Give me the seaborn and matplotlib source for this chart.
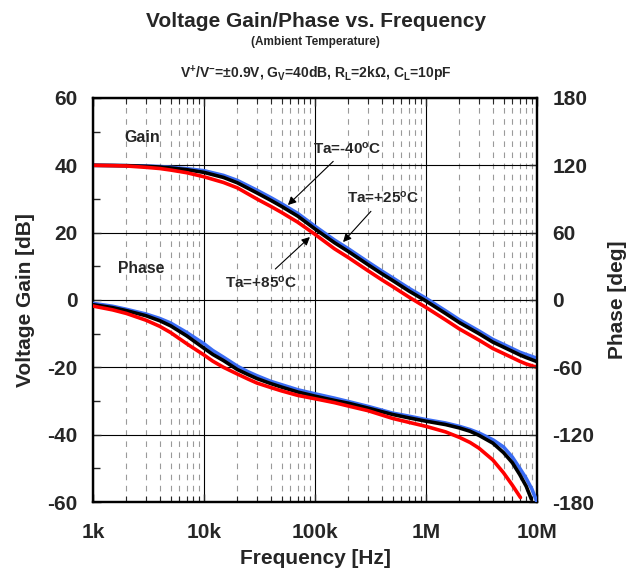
import numpy as np
import matplotlib
matplotlib.use("Agg")
import matplotlib.pyplot as plt
import seaborn as sns
from matplotlib.ticker import LogLocator, NullFormatter, MultipleLocator

# ===============================
# Data
# ===============================
freq_gain = [1e3, 1.5e3, 2e3, 3e3, 4e3, 5e3, 7e3, 1e4, 1.5e4, 2e4, 3e4, 4e4, 5e4, 7e4, 1e5,
             1.5e5, 2e5, 3e5, 4e5, 5e5, 7e5, 1e6, 1.5e6, 2e6, 3e6, 4e6, 5e6, 7e6, 8e6, 1e7]
gain_m40 = [40.0, 39.95, 39.9, 39.8, 39.65, 39.4, 39.0, 38.4, 37.0, 35.5, 32.6, 30.4, 28.6, 25.7, 21.9,
            17.8, 15.2, 11.3, 8.6, 6.6, 3.5, 0.5, -3.2, -5.9, -9.2, -11.7, -13.2, -15.5, -16.2, -17.3]
gain_p25 = [40.0, 39.95, 39.9, 39.7, 39.5, 39.2, 38.7, 37.9, 36.4, 34.8, 31.8, 29.6, 27.8, 24.9, 21.1,
            17.0, 14.4, 10.5, 7.8, 5.8, 2.7, -0.3, -4.0, -6.7, -10.0, -12.5, -14.0, -16.3, -17.1, -18.3]
gain_p85 = [40.0, 39.9, 39.8, 39.4, 39.05, 38.6, 37.8, 36.6, 34.9, 33.3, 30.0, 27.8, 26.0, 23.1, 19.5,
            15.2, 12.6, 8.7, 6.0, 4.0, 0.9, -2.2, -5.9, -8.6, -11.9, -14.4, -15.9, -18.2, -19.0, -20.0]

freq_ph_m40 = [1e3, 1.5e3, 2e3, 3e3, 4e3, 5e3, 7e3, 1e4, 1.2e4, 1.5e4, 2e4, 2.5e4, 3e4, 4e4, 5e4, 7e4, 1e5,
               1.5e5, 2e5, 3e5, 5e5, 7e5, 1e6, 1.5e6, 2e6, 2.5e6, 3e6, 4e6, 5e6, 6e6, 7e6, 8e6, 9e6, 1e7]
phase_m40 = [-3.0, -5.6, -8.3, -12.5, -16.5, -20.5, -29.0, -39.0, -45.0, -51.0, -59.0, -64.0, -67.5, -72.5,
             -75.5, -80.0, -83.6, -87.5, -90.5, -94.8, -100.8, -103.5, -106.6, -109.6, -112.6, -115.5,
             -118.5, -124.5, -131.0, -140.0, -150.0, -159.0, -168.5, -180.0]
freq_ph_p25 = [1e3, 1.5e3, 2e3, 3e3, 4e3, 5e3, 7e3, 1e4, 1.2e4, 1.5e4, 2e4, 2.5e4, 3e4, 4e4, 5e4, 7e4, 1e5,
               1.5e5, 2e5, 3e5, 5e5, 7e5, 1e6, 1.5e6, 2e6, 2.5e6, 3e6, 4e6, 5e6, 6e6, 7e6, 8e6, 8.9e6]
phase_p25 = [-4.2, -6.8, -9.5, -14.0, -18.5, -23.0, -32.0, -43.0, -48.5, -54.0, -62.0, -66.5, -70.0, -74.5,
             -77.6, -82.0, -85.7, -89.5, -92.0, -96.3, -102.0, -105.0, -108.0, -111.0, -114.0, -117.0,
             -120.6, -127.5, -136.0, -145.0, -155.6, -166.0, -177.5]
freq_ph_p85 = [1e3, 1.5e3, 2e3, 3e3, 4e3, 5e3, 7e3, 1e4, 1.2e4, 1.5e4, 2e4, 2.5e4, 3e4, 4e4, 5e4, 7e4, 1e5,
               1.5e5, 2e5, 3e5, 5e5, 7e5, 1e6, 1.5e6, 2e6, 2.5e6, 3e6, 4e6, 5e6, 6e6, 7.1e6]
phase_p85 = [-5.4, -8.8, -12.0, -18.0, -23.5, -29.0, -39.0, -49.0, -54.5, -60.0, -66.0, -70.5, -74.0, -78.0,
             -81.0, -85.0, -88.0, -91.5, -94.5, -98.6, -105.5, -109.0, -112.6, -117.5, -122.4, -127.0,
             -132.0, -142.5, -154.0, -165.0, -176.0]

xticks = [1e3, 1e4, 1e5, 1e6, 1e7]
xtick_labels = ["1k", "10k", "100k", "1M", "10M"]
gain_ticks = [-60, -40, -20, 0, 20, 40, 60]
phase_ticks = [-180, -120, -60, 0, 60, 120, 180]

BLUE = "#3a6cf4"
RED = "#ff0000"
BLACK = "#000000"

# ===============================
# Style
# ===============================
sns.set_theme(style="white")
plt.rcParams["font.family"] = ["Liberation Sans", "DejaVu Sans"]
plt.rcParams["font.weight"] = "bold"
plt.rcParams["mathtext.fontset"] = "custom"
plt.rcParams["mathtext.rm"] = "Liberation Sans:bold"
plt.rcParams["mathtext.it"] = "Liberation Sans:bold"
plt.rcParams["mathtext.bf"] = "Liberation Sans:bold"
plt.rcParams["axes.unicode_minus"] = False

fig = plt.figure(figsize=(6.44, 5.73), dpi=100)
ax = fig.add_axes([0.1444, 0.1239, 0.6894, 0.7051])
ax2 = ax.twinx()

# ===============================
# Curves
# ===============================
lw = 2.6
sns.lineplot(x=freq_gain, y=gain_m40, ax=ax, color=BLUE, lw=lw, zorder=3)
sns.lineplot(x=freq_gain, y=gain_p25, ax=ax, color=BLACK, lw=lw, zorder=4)
sns.lineplot(x=freq_gain, y=gain_p85, ax=ax, color=RED, lw=lw, zorder=5)

sns.lineplot(x=freq_ph_m40, y=phase_m40, ax=ax2, color=BLUE, lw=lw, zorder=3)
sns.lineplot(x=freq_ph_p25, y=phase_p25, ax=ax2, color=BLACK, lw=lw, zorder=4)
sns.lineplot(x=freq_ph_p85, y=phase_p85, ax=ax2, color=RED, lw=lw, zorder=5)

# ===============================
# Axes
# ===============================
ax.set_xscale("log")
ax.set_xlim(1e3, 1e7)
ax.set_ylim(-60, 60)
ax2.set_ylim(-180, 180)

ax.set_xticks(xticks)
ax.set_xticklabels(xtick_labels)
ax.xaxis.set_minor_locator(LogLocator(base=10, subs=range(2, 10)))
ax.xaxis.set_minor_formatter(NullFormatter())
ax.set_yticks(gain_ticks)
ax.yaxis.set_minor_locator(MultipleLocator(10))
ax2.set_yticks(phase_ticks)

ax.set_axisbelow(True)
ax.grid(True, which="major", color="black", lw=0.8)
ax.xaxis.grid(True, which="minor", color="#9a9a9a", lw=0.8, linestyle=(0, (5, 5)))
ax.yaxis.grid(False, which="minor")
ax2.grid(False)

ax.tick_params(axis="x", which="both", direction="in", top=True, bottom=True,
               labelsize=15, pad=15)
ax.tick_params(axis="x", which="major", length=6, width=1)
ax.tick_params(axis="x", which="minor", length=4, width=0.8)
ax.tick_params(axis="y", which="both", direction="in", left=True, right=False,
               labelsize=15, pad=11)
ax.tick_params(axis="y", which="major", length=6, width=1)
ax.tick_params(axis="y", which="minor", length=5, width=1)
ax2.tick_params(axis="y", which="both", direction="in", right=True, labelsize=15,
                pad=11, length=6, width=1)

for a in (ax, ax2):
    for s in a.spines.values():
        s.set_color("black")
        s.set_linewidth(1.6)

ax.set_xlabel("Frequency [Hz]", fontsize=15, fontweight="bold", labelpad=5)
ax.set_ylabel("Voltage Gain [dB]", fontsize=15, fontweight="bold", labelpad=9)
ax2.set_ylabel("Phase [deg]", fontsize=15, fontweight="bold", labelpad=10)

# ===============================
# Labels and annotations
# ===============================
ax.text(2.76e3, 48.4, "Gain", fontsize=11.5, fontweight="bold", ha="center", va="center")
ax.text(2.7e3, 9.5, "Phase", fontsize=11.3, fontweight="bold", ha="center", va="center")

arrow = dict(arrowstyle="-|>", color="black", lw=0.8, mutation_scale=12, shrinkA=2, shrinkB=0)
ax.annotate("Ta=-40$^{o}$C", xy=(5.7e4, 28.2), xytext=(1.94e5, 45.1),
            fontsize=11, fontweight="bold", ha="center", va="center", arrowprops=arrow, zorder=6)
ax.annotate("Ta=+25$^{o}$C", xy=(1.79e5, 17.2), xytext=(4.1e5, 30.3),
            fontsize=11, fontweight="bold", ha="center", va="center", arrowprops=arrow, zorder=6)
ax.annotate("Ta=+85$^{o}$C", xy=(9.0e4, 18.7), xytext=(3.27e4, 5.3),
            fontsize=11, fontweight="bold", ha="center", va="center", arrowprops=arrow, zorder=6)

cx = 0.4905
fig.text(cx, 0.9625, "Voltage Gain/Phase vs. Frequency", fontsize=15,
         fontweight="bold", ha="center", va="center")
fig.text(cx, 0.9267, "(Ambient Temperature)", fontsize=8.5,
         fontweight="bold", ha="center", va="center")
fig.text(cx, 0.8717, r"V$^{+}$/V$^{-}$=±0.9V, G$_{V}$=40dB, R$_{L}$=2kΩ, C$_{L}$=10pF",
         fontsize=10, fontweight="bold", ha="center", va="center")

fig.savefig("out.png", dpi=100)
